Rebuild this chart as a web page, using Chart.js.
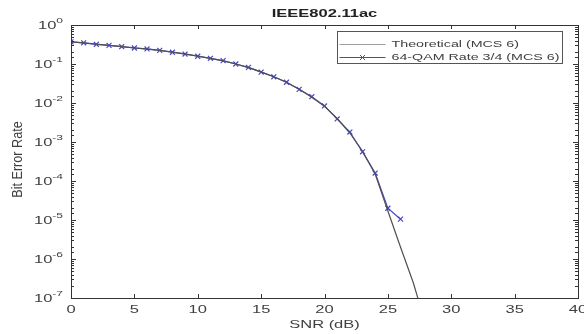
<!DOCTYPE html>
<html>
<head>
<meta charset="utf-8">
<script src="https://cdn.jsdelivr.net/npm/chart.js@4.4.0/dist/chart.umd.min.js"></script>
<style>
  html, body { margin: 0; padding: 0; background: #fff; }
  #wrap { width: 584px; height: 334px; }
</style>
</head>
<body>
<div id="wrap"><canvas id="chart" width="584" height="334"></canvas></div>
<script>
// simulated BER, 64-QAM rate 3/4 (MCS 6)
const snrSim = [0, 1, 2, 3, 4, 5, 6, 7, 8, 9, 10, 11, 12, 13, 14, 15, 16, 17, 18, 19, 20, 21, 22, 23, 24, 25, 26];
const berSim = [0.37, 0.35, 0.32, 0.30, 0.278, 0.257, 0.243, 0.224, 0.20, 0.18, 0.158, 0.14, 0.122, 0.10,
  0.082, 0.062, 0.047, 0.034, 0.0224, 0.0145, 0.0084, 0.0039, 0.0018, 5.6e-4, 1.6e-4, 2.0e-5, 1.05e-5];

// theoretical curve
const snrTheory = [0, 1, 2, 3, 4, 5, 6, 7, 8, 9, 10, 11, 12, 13, 14, 15, 16, 17, 18, 19, 20, 21, 22, 23, 24, 25, 26, 27, 28];
const berTheory = [0.37, 0.35, 0.325, 0.30, 0.278, 0.258, 0.242, 0.223, 0.202, 0.181, 0.159, 0.14, 0.12, 0.10,
  0.081, 0.063, 0.047, 0.034, 0.0225, 0.014, 0.0082, 0.0040, 0.0017, 5.8e-4, 1.5e-4, 1.7e-5, 2.0e-6, 2.5e-7, 2.0e-8];

const xTicks = [0, 5, 10, 15, 20, 25, 30, 35, 40];
const yExponents = [0, -1, -2, -3, -4, -5, -6, -7];

const titleText = 'IEEE802.11ac';
const xLabel = 'SNR (dB)';
const yLabel = 'Bit Error Rate';
const legendLabels = ['Theoretical (MCS 6)', '64-QAM Rate 3/4 (MCS 6)'];

const FONT = '"Liberation Sans", Arial, sans-serif';
const SX = 1.5; // the reference text is drawn wide
const AXIS_COLOR = '#333333';
const TEXT_COLOR = '#404040';
const SIM_COLOR = '#4646c8';
const THEORY_COLOR = '#505050';

const canvas = document.getElementById('chart');

function wideText(ctx, text, x, y, font, align, color) {
  ctx.save();
  ctx.font = font;
  ctx.fillStyle = color || TEXT_COLOR;
  ctx.textBaseline = 'middle';
  ctx.textAlign = 'left';
  const w = ctx.measureText(text).width * SX;
  let left = x;
  if (align === 'center') left = x - w / 2;
  if (align === 'right') left = x - w;
  ctx.translate(left, y);
  ctx.scale(SX, 1);
  ctx.fillText(text, 0, 0);
  ctx.restore();
  return w;
}

const matlabAxes = {
  id: 'matlabAxes',
  afterDatasetsDraw(chart) {
    const ctx = chart.ctx;
    const area = chart.chartArea;
    const xs = chart.scales.x;
    const ys = chart.scales.y;

    ctx.save();
    ctx.strokeStyle = AXIS_COLOR;
    ctx.lineWidth = 1;
    ctx.strokeRect(Math.round(area.left) + 0.5, Math.round(area.top) + 0.5,
      Math.round(area.right - area.left), Math.round(area.bottom - area.top));

    // inward ticks on all four sides
    ctx.beginPath();
    xTicks.forEach(v => {
      const px = Math.round(xs.getPixelForValue(v)) + 0.5;
      ctx.moveTo(px, area.bottom); ctx.lineTo(px, area.bottom - 4);
      ctx.moveTo(px, area.top); ctx.lineTo(px, area.top + 4);
    });
    ys.ticks.forEach(t => {
      const major = Math.abs(Math.log10(t.value) - Math.round(Math.log10(t.value))) < 1e-6;
      const len = major ? 5 : 3;
      const py = Math.round(ys.getPixelForValue(t.value)) + 0.5;
      ctx.moveTo(area.left, py); ctx.lineTo(area.left + len, py);
      ctx.moveTo(area.right, py); ctx.lineTo(area.right - len, py);
    });
    ctx.stroke();
    ctx.restore();

    // tick labels
    xTicks.forEach(v => {
      wideText(ctx, String(v), xs.getPixelForValue(v), area.bottom + 12, '11px ' + FONT, 'center');
    });
    yExponents.forEach(e => {
      const py = ys.getPixelForValue(Math.pow(10, e));
      ctx.save();
      ctx.font = '8px ' + FONT;
      const supW = ctx.measureText(String(e)).width * SX;
      ctx.restore();
      const right = area.left - 8;
      wideText(ctx, '10', right - supW, py + 1, '11px ' + FONT, 'right');
      wideText(ctx, String(e), right - supW, py - 4, '8px ' + FONT, 'left');
    });

    // axis titles and chart title
    const cx = (area.left + area.right) / 2;
    wideText(ctx, xLabel, cx, area.bottom + 27, '11px ' + FONT, 'center');
    wideText(ctx, titleText, cx, 14, 'bold 11px ' + FONT, 'center', '#222');

    ctx.save();
    ctx.translate(18, (area.top + area.bottom) / 2 - 2);
    ctx.rotate(-Math.PI / 2);
    ctx.font = '11px ' + FONT;
    ctx.fillStyle = TEXT_COLOR;
    ctx.textAlign = 'center';
    ctx.textBaseline = 'middle';
    ctx.scale(1.15, 1.3);
    ctx.fillText(yLabel, 0, 0);
    ctx.restore();

    // legend box
    const bx = 337.5, by = 31.5, bw = 225, bh = 32;
    ctx.save();
    ctx.fillStyle = '#fff';
    ctx.fillRect(bx, by, bw, bh);
    ctx.strokeStyle = '#555';
    ctx.lineWidth = 1;
    ctx.strokeRect(bx, by, bw, bh);
    const rows = [by + 13, by + 26];
    ctx.beginPath();
    ctx.strokeStyle = '#a0a0a0';
    ctx.moveTo(bx + 2, rows[0]); ctx.lineTo(bx + 48, rows[0]);
    ctx.stroke();
    ctx.beginPath();
    ctx.strokeStyle = SIM_COLOR;
    ctx.moveTo(bx + 2, rows[1]); ctx.lineTo(bx + 48, rows[1]);
    const mx = bx + 25, my = rows[1], r = 2.5;
    ctx.moveTo(mx - r, my - r); ctx.lineTo(mx + r, my + r);
    ctx.moveTo(mx - r, my + r); ctx.lineTo(mx + r, my - r);
    ctx.stroke();
    ctx.restore();
    legendLabels.forEach((txt, i) => {
      wideText(ctx, txt, bx + 54, rows[i], '9.5px ' + FONT, 'left');
    });
  }
};

new Chart(canvas.getContext('2d'), {
  type: 'line',
  data: {
    datasets: [
      {
        label: legendLabels[0],
        data: snrTheory.map((s, i) => ({ x: s, y: berTheory[i] })),
        borderColor: THEORY_COLOR,
        borderWidth: 1.2,
        pointRadius: 0,
        tension: 0,
        fill: false,
      },
      {
        label: legendLabels[1],
        data: snrSim.map((s, i) => ({ x: s, y: berSim[i] })),
        borderColor: SIM_COLOR,
        backgroundColor: SIM_COLOR,
        borderWidth: 1.2,
        pointStyle: 'crossRot',
        pointRadius: 3.5,
        pointBorderWidth: 1.2,
        pointBorderColor: SIM_COLOR,
        tension: 0,
        fill: false,
      },
    ],
  },
  options: {
    responsive: false,
    animation: false,
    devicePixelRatio: 1,
    layout: { padding: { top: 25, right: 6, left: 0, bottom: 0 } },
    plugins: {
      legend: { display: false },
      title: { display: false },
      tooltip: { enabled: false },
    },
    scales: {
      x: {
        type: 'linear',
        min: 0,
        max: 40,
        ticks: { display: false, stepSize: 5 },
        grid: { display: false },
        border: { display: false },
        afterFit: s => { s.height = 36; },
      },
      y: {
        type: 'logarithmic',
        min: 1e-7,
        max: 1,
        ticks: { display: false },
        grid: { display: false },
        border: { display: false },
        afterFit: s => { s.width = 71; },
      },
    },
  },
  plugins: [matlabAxes],
});
</script>
</body>
</html>
